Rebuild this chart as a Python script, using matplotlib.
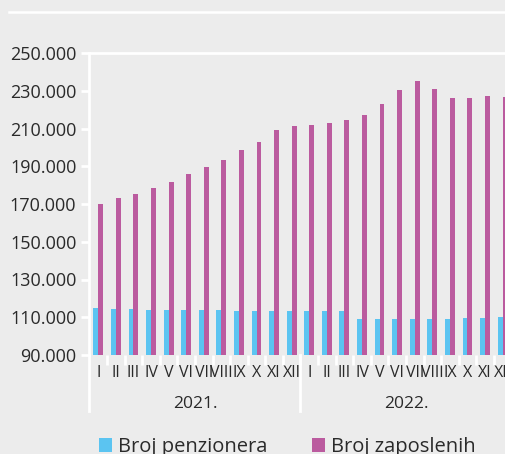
import numpy as np
import matplotlib
matplotlib.use('Agg')
import matplotlib.pyplot as plt
import matplotlib.transforms as mtransforms

plt.rcParams['font.family'] = ['Open Sans', 'DejaVu Sans']

# data
months = ['I', 'II', 'III', 'IV', 'V', 'VI', 'VII', 'VIII', 'IX', 'X', 'XI', 'XII'] * 2
years = ['2021.', '2022.']
penzioneri = [114700, 114400, 114200, 114000, 113700, 113850, 114000, 113850, 113500, 113500, 113300, 113150,
              113150, 113150, 113150, 109070, 109000, 109070, 109070, 109070, 109000, 109400, 109600, 110000]
zaposleni = [169800, 173200, 175500, 178400, 181400, 185800, 189760, 193300, 198450, 202700, 209200, 211300,
             211900, 212750, 214700, 217300, 222800, 230600, 235200, 230750, 226300, 226200, 227400, 226850]

bg = '#ececec'
blue = '#5bc4f1'
pink = '#bb5b9f'
txt = '#2a2a2a'

fig = plt.figure(figsize=(5.06, 4.54), dpi=100, facecolor=bg)
W, H = 506, 454
left, right, top, bottom = 89.5, 89.5 + 24 * 17.58, 53, 355
ax = fig.add_axes([left / W, 1 - bottom / H, (right - left) / W, (bottom - top) / H])
ax.set_facecolor(bg)

x = np.arange(len(months))
w = 0.28
ax.bar(x - 0.14, penzioneri, w, color=blue, label='Broj penzionera')
ax.bar(x + 0.14, zaposleni, w, color=pink, label='Broj zaposlenih')

ax.set_xlim(-0.5, len(months) - 0.5)
ax.set_ylim(90000, 250000)
yt = np.arange(90000, 250001, 20000)
ax.set_yticks(yt)
ax.set_yticklabels([f'{v:,.0f}'.replace(',', '.') for v in yt], fontsize=13, color=txt)
ax.tick_params(axis='y', length=6, width=2, color='white', pad=3.5)

# month labels, boundary ticks
ax.set_xticks(x)
ax.set_xticklabels(months, fontsize=11.5, color=txt)
ax.tick_params(axis='x', length=0, pad=7)
ax.set_xticks(np.arange(0.5, len(months) - 0.5), minor=True)
ax.tick_params(axis='x', which='minor', length=7, width=2, color='white')

for s in ['right', 'bottom']:
    ax.spines[s].set_visible(False)
ax.spines['top'].set_color('white')
ax.spines['top'].set_linewidth(2)
ax.spines['left'].set_color('white')
ax.spines['left'].set_linewidth(2)

# year separators and labels
trans = mtransforms.blended_transform_factory(ax.transData, ax.transAxes)
for b in [-0.5, 11.5]:
    ax.plot([b, b], [0, -56 / (bottom - top)], color='white', lw=2, transform=trans, clip_on=False)
for i, yr in enumerate(years):
    ax.text(i * 12 + 5.5, -49 / (bottom - top), yr, transform=trans, ha='center', va='center',
            fontsize=12.5, color=txt)

# header line
fig.add_artist(plt.Line2D([9 / W, 1], [1 - 12 / H, 1 - 12 / H], color='white', lw=1.8))

# legend
handles, labels = ax.get_legend_handles_labels()
fig.legend(handles, labels, loc='center left', bbox_to_anchor=(85 / W, 1 - 447 / H), ncol=2,
           frameon=False, fontsize=14.5, handlelength=0.65, handleheight=0.65, handletextpad=0.3,
           columnspacing=2.2, labelcolor=txt, borderpad=0.2)

fig.savefig('out.png', dpi=100, facecolor=bg)
